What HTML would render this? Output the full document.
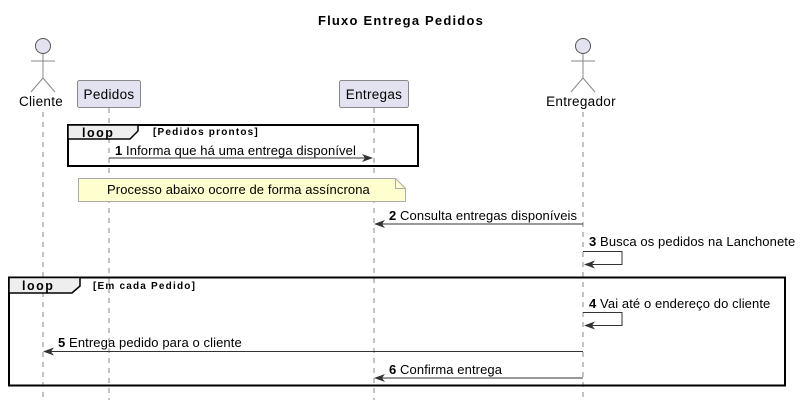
<!DOCTYPE html>
<html><head><meta charset="utf-8"><style>
html,body{margin:0;padding:0;background:#fff;}
svg{display:block;}
text{font-family:"Liberation Sans",sans-serif;fill:#000;}
</style></head><body>
<svg width="802" height="407" viewBox="0 0 802 407" xmlns="http://www.w3.org/2000/svg">
<text x="401" y="25" text-anchor="middle" font-size="13" font-weight="bold" letter-spacing="1.2">Fluxo Entrega Pedidos</text>
<g stroke="#888" stroke-width="1" stroke-dasharray="5,5">
<line x1="43" y1="112" x2="43" y2="400"/>
<line x1="109" y1="108" x2="109" y2="400"/>
<line x1="374" y1="108" x2="374" y2="400"/>
<line x1="583" y1="112" x2="583" y2="400"/>
</g>
<g stroke="#888" stroke-width="1" fill="none">
<circle cx="43" cy="46" r="7.5" fill="#e2e2f0" stroke="#555"/>
<line x1="43" y1="54" x2="43" y2="78"/><line x1="31" y1="61" x2="55" y2="61"/>
<line x1="43" y1="78" x2="31" y2="92"/><line x1="43" y1="78" x2="55" y2="92"/>
<circle cx="583" cy="46" r="7.5" fill="#e2e2f0" stroke="#555"/>
<line x1="583" y1="54" x2="583" y2="78"/><line x1="571" y1="61" x2="595" y2="61"/>
<line x1="583" y1="78" x2="571" y2="92"/><line x1="583" y1="78" x2="595" y2="92"/>
</g>
<text x="41" y="106" text-anchor="middle" font-size="13.5" letter-spacing="0.3">Cliente</text>
<text x="581" y="106" text-anchor="middle" font-size="13.5" letter-spacing="0.3">Entregador</text>
<rect x="77.5" y="80.5" width="63" height="27" rx="2" fill="#e2e2f0" stroke="#888"/>
<text x="109" y="99" text-anchor="middle" font-size="13.5" letter-spacing="0.3">Pedidos</text>
<rect x="339.5" y="80.5" width="69" height="27" rx="2" fill="#e2e2f0" stroke="#888"/>
<text x="374" y="99" text-anchor="middle" font-size="13.5" letter-spacing="0.3">Entregas</text>
<!-- loop 1 -->
<rect x="68" y="125" width="350" height="41" fill="none" stroke="#000" stroke-width="2"/>
<path d="M68,125 L138,125 L138,131 L130,139 L68,139 Z" fill="#eee" stroke="#000" stroke-width="1.5"/>
<text x="82" y="137" font-size="12.5" font-weight="bold" letter-spacing="1.5">loop</text>
<text x="153" y="135" font-size="10" font-weight="bold" letter-spacing="1.2">[Pedidos prontos]</text>
<line x1="109" y1="158" x2="370" y2="158" stroke="#333"/>
<path d="M373,158 L362,154 L365,158 L362,162 Z" fill="#333"/>
<text x="115" y="155" font-size="13" letter-spacing="0.1"><tspan font-weight="bold">1</tspan> Informa que há uma entrega disponível</text>
<!-- note -->
<path d="M78.5,178.5 L395.5,178.5 L405.5,188.5 L405.5,201.5 L78.5,201.5 Z" fill="#fefece" stroke="#aaa"/>
<path d="M395.5,178.5 L395.5,188.5 L405.5,188.5" fill="none" stroke="#aaa"/>
<text x="107" y="194" font-size="13" letter-spacing="0.1">Processo abaixo ocorre de forma assíncrona</text>
<!-- msg2 -->
<line x1="583" y1="224" x2="377" y2="224" stroke="#333"/>
<path d="M374,224 L385,220 L382,224 L385,228 Z" fill="#333"/>
<text x="389" y="220" font-size="13" letter-spacing="0.1"><tspan font-weight="bold">2</tspan> Consulta entregas disponíveis</text>
<!-- msg3 -->
<path d="M583,251.5 L622,251.5 L622,264.5 L587,264.5" fill="none" stroke="#333"/>
<path d="M584,264.5 L595,260.5 L592,264.5 L595,268.5 Z" fill="#333"/>
<text x="589" y="246" font-size="13" letter-spacing="0.1"><tspan font-weight="bold">3</tspan> Busca os pedidos na Lanchonete</text>
<!-- loop 2 -->
<rect x="9" y="277.5" width="776" height="108" fill="none" stroke="#000" stroke-width="2"/>
<path d="M9,277.5 L80,277.5 L80,286 L72,293 L9,293 Z" fill="#eee" stroke="#000" stroke-width="1.5"/>
<text x="22" y="290" font-size="12.5" font-weight="bold" letter-spacing="1.5">loop</text>
<text x="93" y="289" font-size="10" font-weight="bold" letter-spacing="1.2">[Em cada Pedido]</text>
<path d="M583,312.5 L622,312.5 L622,325.5 L587,325.5" fill="none" stroke="#333"/>
<path d="M584,325.5 L595,321.5 L592,325.5 L595,329.5 Z" fill="#333"/>
<text x="589" y="308" font-size="13" letter-spacing="0.1"><tspan font-weight="bold">4</tspan> Vai até o endereço do cliente</text>
<line x1="583" y1="351.5" x2="46" y2="351.5" stroke="#333"/>
<path d="M43,351.5 L54,347.5 L51,351.5 L54,355.5 Z" fill="#333"/>
<text x="58" y="347" font-size="13" letter-spacing="0.1"><tspan font-weight="bold">5</tspan> Entrega pedido para o cliente</text>
<line x1="583" y1="378" x2="377" y2="378" stroke="#333"/>
<path d="M374,378 L385,374 L382,378 L385,382 Z" fill="#333"/>
<text x="389" y="374" font-size="13" letter-spacing="0.1"><tspan font-weight="bold">6</tspan> Confirma entrega</text>
</svg>
</body></html>
